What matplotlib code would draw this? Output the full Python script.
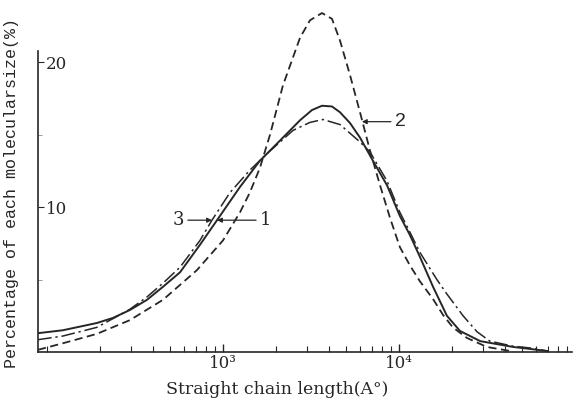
import matplotlib
matplotlib.use('Agg')
import matplotlib.pyplot as plt
from matplotlib.ticker import FixedLocator, NullFormatter

# straight chain length (A) and percentage of each molecular size
# curve 1 (solid)
x1 = [89, 123, 192, 237, 296, 370, 456, 570, 740, 925, 1250, 1620, 2110, 2740,
      3200, 3650, 4160, 4620, 5270, 6000, 7110, 8550, 10100, 11500, 13100,
      15600, 18700, 22200, 28900, 44400, 69300]
y1 = [1.3, 1.5, 2.0, 2.35, 2.9, 3.6, 4.5, 5.5, 7.4, 9.1, 11.4, 13.2, 14.6, 16.0,
      16.7, 17.0, 16.95, 16.55, 15.8, 14.8, 13.2, 11.5, 9.4, 8.1, 6.6, 4.5,
      2.5, 1.45, 0.75, 0.35, 0.07]

# curve 2 (dashed)
x2 = [89, 123, 192, 296, 456, 711, 1000, 1250, 1420, 1620, 1850, 2190, 2740,
      3120, 3650, 4160, 4620, 5270, 6000, 6840, 7800, 8890, 10100, 11500,
      13100, 15600, 17800, 20200, 24300, 31500, 42700]
y2 = [0.15, 0.6, 1.25, 2.2, 3.6, 5.65, 7.7, 9.65, 11.0, 12.7, 15.0, 18.4, 21.7,
      22.9, 23.4, 23.0, 21.5, 19.1, 16.55, 13.9, 11.5, 9.25, 7.25, 6.0, 4.9,
      3.65, 2.55, 1.7, 0.97, 0.35, 0.07]

# curve 3 (dash-dot)
x3 = [89, 123, 192, 237, 296, 370, 456, 570, 740, 866, 1095, 1420, 1780, 2110,
      2500, 3120, 3700, 4620, 6000, 6840, 8550, 10100, 11500, 13100, 16400,
      18700, 23100, 27700, 32800, 44400, 55500, 69300]
y3 = [0.85, 1.1, 1.7, 2.3, 2.95, 3.8, 4.75, 5.85, 7.7, 9.1, 11.0, 12.55, 13.7,
      14.5, 15.3, 15.85, 16.05, 15.7, 14.5, 13.8, 11.8, 9.65, 8.3, 6.9, 5.0,
      4.0, 2.5, 1.4, 0.75, 0.4, 0.28, 0.07]

ink = '#262626'
serif = ['DejaVu Serif']

fig = plt.figure(figsize=(5.74, 4.01), dpi=100)
ax = fig.add_axes([38 / 574, 1 - 352 / 401, 534 / 574, 352 / 401])

# the three curves
ax.plot(x1, y1, color=ink, lw=1.4)
ax.plot(x2, y2, color=ink, lw=1.3, linestyle=(0, (4.5, 2.5)))
ax.plot(x3, y3, color=ink, lw=1.1, linestyle=(0, (9, 2.5, 1.5, 2.5)))

ax.set_xscale('log')
ax.set_xlim(89, 96000)
ax.set_ylim(0, 24.3)

# axes look
for s in ['top', 'right']:
    ax.spines[s].set_visible(False)
ax.spines['left'].set_bounds(0, 20.8)
for s in ['left', 'bottom']:
    ax.spines[s].set_color(ink)
    ax.spines[s].set_linewidth(1.2)

ax.set_xticks([1000, 10000])
ax.set_xticklabels(['10³', '10⁴'], family=serif, fontsize=12)
ax.xaxis.set_minor_locator(FixedLocator(
    [m * 10 ** e for e in (2, 3, 4) for m in range(1, 10)]))
ax.xaxis.set_minor_formatter(NullFormatter())
ax.tick_params(axis='x', which='major', direction='in', length=6, width=1,
               color=ink, pad=2, labelcolor=ink)
ax.tick_params(axis='x', which='minor', direction='in', length=4, width=0.8,
               color=ink)

ax.set_yticks([10, 20])
ax.set_yticklabels(['10', '20'], family=serif, fontsize=12)
ax.yaxis.set_minor_locator(FixedLocator([5, 15]))
ax.tick_params(axis='y', which='major', direction='in', length=4, width=0.8,
               color=ink, pad=-21, labelcolor=ink)
ax.tick_params(axis='y', which='minor', direction='in', length=3, width=0.6,
               color='#888888')

fig.text(277 / 574, 1 - 389 / 401, 'Straight chain length(A°)', ha='center',
         va='center', family=serif, fontsize=12.5, color=ink)
fig.text(12 / 574, 1 - 193 / 401, 'Percentage of each molecularsize(%)',
         rotation=90, ha='center', va='center', family='Liberation Mono',
         fontsize=12, color=ink)

# curve labels
arrow = dict(arrowstyle='-|>', color=ink, lw=0.9, mutation_scale=7,
             shrinkA=1, shrinkB=0)
ax.annotate('3', xy=(866, 9.1), xytext=(555, 9.1), ha='center', va='center',
            family=serif, fontsize=13, color=ink, arrowprops=arrow)
ax.annotate('1', xy=(925, 9.1), xytext=(1755, 9.1), ha='center', va='center',
            family=serif, fontsize=13, color=ink, arrowprops=arrow)
ax.annotate('2', xy=(6150, 15.9), xytext=(10200, 15.9), ha='center',
            va='center', family='Liberation Sans', fontsize=14, color=ink,
            arrowprops=arrow)

fig.savefig('out.png', dpi=100)
